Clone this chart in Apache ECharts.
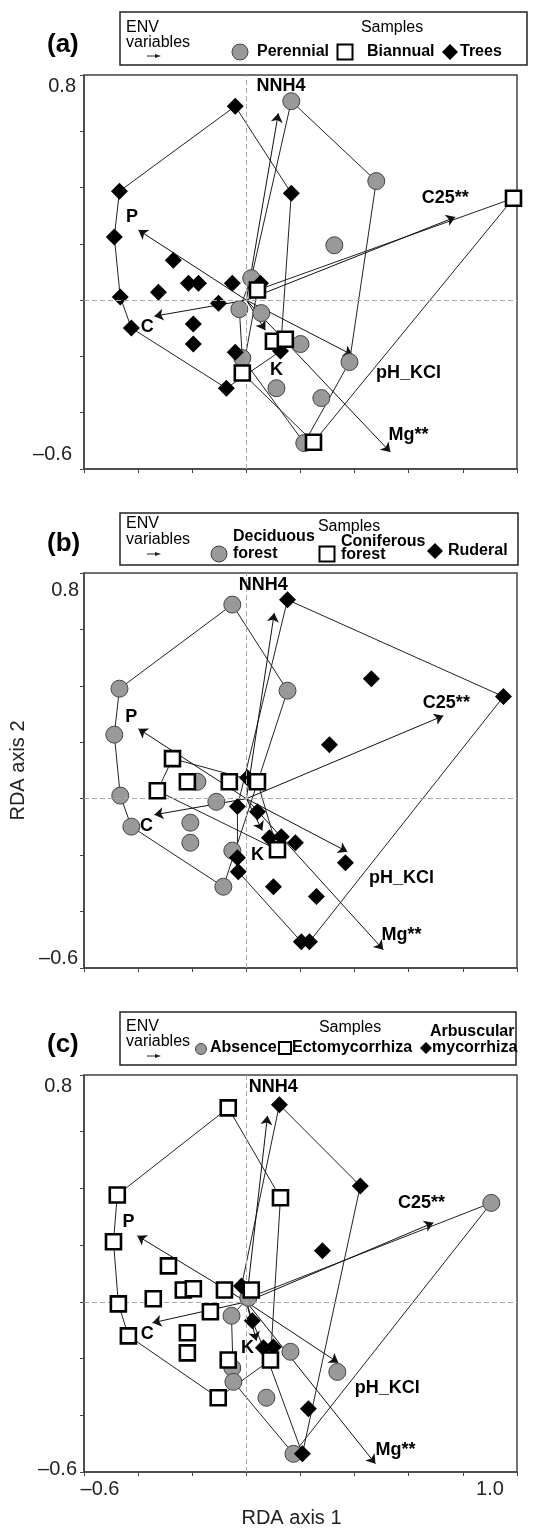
<!DOCTYPE html>
<html>
<head>
<meta charset="utf-8">
<script src="https://cdn.jsdelivr.net/npm/echarts@6/dist/echarts.min.js"></script>
<style>
html, body { margin: 0; padding: 0; background: #fff; }
#chart { width: 534px; height: 1533px; }
</style>
</head>
<body>
<div id="chart"></div>
<script>
// environmental variables (arrows from the origin)
var envNames = ['NNH4', 'C25**', 'P', 'C', 'K', 'pH_KCl', 'Mg**'];

var envA = [[0.118, 0.664], [0.772, 0.295], [-0.399, 0.249], [-0.340, -0.057], [0.070, -0.107], [0.392, -0.195], [0.532, -0.540]];
var envB = [[0.103, 0.658], [0.728, 0.294], [-0.399, 0.248], [-0.340, -0.057], [0.059, -0.113], [0.373, -0.188], [0.506, -0.535]];
var envC = [[0.078, 0.656], [0.691, 0.279], [-0.403, 0.233], [-0.347, -0.074], [0.037, -0.137], [0.340, -0.215], [0.477, -0.571]];

// where the arrow names sit
var envLabelA = [[0.128, 0.760], [0.735, 0.364], [-0.423, 0.295], [-0.366, -0.096], [0.111, -0.249], [0.599, -0.259], [0.599, -0.480]];
var envLabelB = [[0.062, 0.758], [0.739, 0.340], [-0.425, 0.291], [-0.369, -0.096], [0.041, -0.198], [0.573, -0.280], [0.573, -0.482]];
var envLabelC = [[0.099, 0.758], [0.647, 0.349], [-0.436, 0.282], [-0.366, -0.113], [0.004, -0.162], [0.521, -0.303], [0.551, -0.522]];

// (a) life form
var perennialA = [[0.166, 0.707], [0.480, 0.423], [0.325, 0.195], [0.018, 0.078], [-0.026, -0.032], [0.055, -0.046],
  [0.200, -0.156], [-0.015, -0.206], [0.381, -0.220], [0.111, -0.313], [0.277, -0.348], [0.214, -0.508]];
var biannualA = [[0.987, 0.362], [0.041, 0.036], [0.100, -0.146], [0.144, -0.139], [-0.015, -0.259], [0.248, -0.505]];
var treesA = [[-0.041, 0.689], [-0.469, 0.387], [0.166, 0.380], [-0.488, 0.224], [-0.270, 0.142], [-0.214, 0.060],
  [-0.177, 0.060], [-0.052, 0.060], [0.052, 0.060], [-0.325, 0.028], [-0.466, 0.011], [-0.103, -0.011],
  [-0.425, -0.099], [-0.196, -0.085], [-0.196, -0.156], [0.126, -0.181], [-0.041, -0.185], [-0.074, -0.313]];
var hullPerennialA = [0, 1, 8, 11, 7, 4, 3, 0];
var hullBiannualA = [0, 5, 4, 1, 0];
var hullTreesA = [0, 2, 15, 17, 12, 10, 3, 1, 0];

// (b) habitat
var deciduousB = [[-0.052, 0.688], [-0.469, 0.390], [0.152, 0.383], [-0.488, 0.227], [-0.181, 0.060], [-0.466, 0.011],
  [-0.111, -0.011], [-0.425, -0.099], [-0.207, -0.085], [-0.207, -0.156], [-0.052, -0.184], [-0.085, -0.312]];
var coniferousB = [[-0.273, 0.142], [-0.218, 0.060], [-0.063, 0.060], [0.041, 0.060], [-0.329, 0.028], [0.115, -0.181]];
var ruderalB = [[0.152, 0.705], [0.462, 0.425], [0.950, 0.362], [0.307, 0.191], [0.004, 0.074], [-0.033, -0.028],
  [0.041, -0.046], [0.085, -0.138], [0.129, -0.135], [0.181, -0.156], [0.366, -0.227], [-0.033, -0.209],
  [-0.030, -0.259], [0.100, -0.312], [0.259, -0.347], [0.203, -0.507], [0.233, -0.507]];
var hullDeciduousB = [0, 2, 11, 7, 5, 3, 1, 0];
var hullConiferousB = [0, 3, 5, 4, 0];
var hullRuderalB = [0, 2, 16, 15, 12, 11, 5, 0];

// (c) mycorrhiza
var absenceC = [[0.905, 0.349], [0.007, 0.014], [-0.055, -0.049], [0.163, -0.176], [0.336, -0.247], [-0.052, -0.233],
  [-0.048, -0.282], [0.074, -0.338], [0.174, -0.536]];
var ectoC = [[-0.067, 0.684], [-0.477, 0.377], [0.126, 0.367], [-0.491, 0.212], [-0.288, 0.127], [-0.233, 0.042],
  [-0.196, 0.046], [-0.081, 0.042], [0.018, 0.042], [-0.473, -0.007], [-0.344, 0.011], [-0.133, -0.035],
  [-0.436, -0.120], [-0.218, -0.109], [-0.218, -0.180], [-0.067, -0.205], [0.089, -0.205], [-0.104, -0.338]];
var arbuscularC = [[0.122, 0.695], [0.421, 0.409], [0.281, 0.180], [-0.018, 0.056], [0.022, -0.067], [0.063, -0.162],
  [0.100, -0.159], [0.229, -0.377], [0.207, -0.536]];
var hullAbsenceC = [0, 8, 6, 2, 1, 0];
var hullEctoC = [0, 2, 16, 17, 12, 9, 3, 1, 0];
var hullArbuscularC = [0, 1, 8, 5, 4, 3, 0];

var FONT = '"Liberation Sans", Arial, sans-serif';

var kinds = {
  circle: { symbol: 'circle', symbolSize: 17, z: 3, itemStyle: { color: '#999', borderColor: '#444', borderWidth: 1, opacity: 1 } },
  diamond: { symbol: 'diamond', symbolSize: 17, z: 4, itemStyle: { color: '#000', opacity: 1 } },
  square: { symbol: 'rect', symbolSize: 15, z: 5, itemStyle: { color: '#fff', borderColor: '#000', borderWidth: 2.6, opacity: 1 } }
};

var panels = [
  { env: envA, envLabel: envLabelA, top: 75, height: 394, yPad: [22, 3, 30, 7],
    groups: [[perennialA, hullPerennialA, 'circle'], [biannualA, hullBiannualA, 'square'], [treesA, hullTreesA, 'diamond']] },
  { env: envB, envLabel: envLabelB, top: 573, height: 395, yPad: [34, 0, 20, 1],
    groups: [[deciduousB, hullDeciduousB, 'circle'], [coniferousB, hullConiferousB, 'square'], [ruderalB, hullRuderalB, 'diamond']] },
  { env: envC, envLabel: envLabelC, top: 1075, height: 397, yPad: [22, 7, 6, 2],
    groups: [[absenceC, hullAbsenceC, 'circle'], [ectoC, hullEctoC, 'square'], [arbuscularC, hullArbuscularC, 'diamond']] }
];

function near(a, b) { return Math.abs(a - b) < 1e-6; }

var grids = [], xAxes = [], yAxes = [], series = [];

panels.forEach(function (p, i) {
  grids.push({ left: 84, width: 433, top: p.top, height: p.height, show: true, borderColor: '#444', borderWidth: 1.5 });

  xAxes.push({
    gridIndex: i, type: 'value', min: -0.6, max: 1.0, interval: 0.2,
    axisLine: { show: true, onZero: false, lineStyle: { color: '#444', width: 1.5 } },
    axisTick: { show: true, length: 4, lineStyle: { color: '#444', width: 1 } },
    splitLine: { show: false },
    name: i === 2 ? 'RDA axis 1' : '',
    nameLocation: 'middle', nameGap: 36,
    nameTextStyle: { fontSize: 20, color: '#222', fontFamily: FONT, padding: [0, 18, 0, 0] },
    axisLabel: {
      show: i === 2, margin: 7, showMinLabel: true, showMaxLabel: true, hideOverlap: false,
      formatter: function (v) {
        if (near(v, -0.6)) return '{l|\u20130.6}';
        if (near(v, 1.0)) return '{r|1.0}';
        return '';
      },
      rich: {
        l: { fontSize: 20, color: '#222', fontFamily: FONT, padding: [0, 0, 0, 32] },
        r: { fontSize: 20, color: '#222', fontFamily: FONT, padding: [0, 54, 0, 0] }
      }
    }
  });

  yAxes.push({
    gridIndex: i, type: 'value', min: -0.6, max: 0.8, interval: 0.2,
    axisLine: { show: true, onZero: false, lineStyle: { color: '#444', width: 1.5 } },
    axisTick: { show: true, length: 4, lineStyle: { color: '#444', width: 1 } },
    splitLine: { show: false },
    name: i === 1 ? 'RDA axis 2' : '',
    nameLocation: 'middle', nameGap: 52,
    nameTextStyle: { fontSize: 20, color: '#222', fontFamily: FONT },
    axisLabel: {
      show: true, margin: 5, showMinLabel: true, showMaxLabel: true, hideOverlap: false,
      formatter: function (v) {
        if (near(v, 0.8)) return '{t|0.8}';
        if (near(v, -0.6)) return '{b|\u20130.6}';
        return '';
      },
      rich: {
        t: { fontSize: 20, color: '#222', fontFamily: FONT, padding: [p.yPad[0], p.yPad[1], 0, 0] },
        b: { fontSize: 20, color: '#222', fontFamily: FONT, padding: [0, p.yPad[3], p.yPad[2], 0] }
      }
    }
  });

  // hulls
  p.groups.forEach(function (g, k) {
    var s = {
      type: 'line', xAxisIndex: i, yAxisIndex: i, silent: true, z: 1,
      symbol: 'none', lineStyle: { color: '#222', width: 1, opacity: 1 },
      data: g[1].map(function (idx) { return g[0][idx]; })
    };
    if (k === 0) {
      s.markLine = {
        silent: true, symbol: ['none', 'none'], label: { show: false },
        lineStyle: { color: '#aaa', type: [5, 3], width: 1, opacity: 1 },
        data: [{ xAxis: 0 }, { yAxis: 0 }]
      };
    }
    series.push(s);
  });

  // env arrows
  series.push({
    type: 'lines', coordinateSystem: 'cartesian2d', xAxisIndex: i, yAxisIndex: i, silent: true, z: 2,
    symbol: ['none', 'arrow'], symbolSize: [0, 9],
    lineStyle: { color: '#111', width: 1, opacity: 1, curveness: 0 },
    data: p.env.map(function (e) { return { coords: [[0, 0], e] }; })
  });

  // env names
  series.push({
    type: 'scatter', xAxisIndex: i, yAxisIndex: i, silent: true, symbolSize: 0, z: 6,
    itemStyle: { opacity: 1 },
    label: { show: true, position: 'inside', formatter: '{b}', fontSize: 18, fontWeight: 'bold', color: '#000', fontFamily: FONT },
    data: p.envLabel.map(function (e, k) { return { name: envNames[k], value: e }; })
  });

  // samples
  p.groups.forEach(function (g) {
    var st = kinds[g[2]];
    series.push({
      type: 'scatter', xAxisIndex: i, yAxisIndex: i, silent: true,
      symbol: st.symbol, symbolSize: st.symbolSize, z: st.z, itemStyle: st.itemStyle,
      data: g[0]
    });
  });
});

// legend boxes and panel tags
function txt(x, y, s, bold, size, align) {
  return {
    type: 'text', x: x, y: y, z: 10,
    style: {
      text: s, fill: '#000', font: (bold ? 'bold ' : '') + (size || 16) + 'px ' + FONT,
      align: align || 'left', textAlign: align || 'left', verticalAlign: 'middle', textVerticalAlign: 'middle'
    }
  };
}
function box(x, y, w, h) {
  return { type: 'rect', z: 9, shape: { x: x, y: y, width: w, height: h }, style: { fill: '#fff', stroke: '#222', lineWidth: 1.5 } };
}
function legCircle(cx, cy, r) {
  return { type: 'circle', z: 10, shape: { cx: cx, cy: cy, r: r }, style: { fill: '#999', stroke: '#444', lineWidth: 1 } };
}
function legSquare(cx, cy, s) {
  return { type: 'rect', z: 10, shape: { x: cx - s / 2, y: cy - s / 2, width: s, height: s }, style: { fill: '#fff', stroke: '#000', lineWidth: 2 } };
}
function legDiamond(cx, cy, r) {
  return { type: 'polygon', z: 10, shape: { points: [[cx, cy - r], [cx + r, cy], [cx, cy + r], [cx - r, cy]] }, style: { fill: '#000' } };
}
function legArrow(y) {
  return [
    { type: 'line', z: 10, shape: { x1: 147, y1: y, x2: 157, y2: y }, style: { stroke: '#222', lineWidth: 1 } },
    { type: 'polygon', z: 10, shape: { points: [[155, y - 2], [161, y], [155, y + 2]] }, style: { fill: '#222' } }
  ];
}

var graphics = [];
// (a)
graphics.push(box(120, 12, 407, 53), txt(126, 28, 'ENV'), txt(126, 43, 'variables'));
graphics = graphics.concat(legArrow(56));
graphics.push(txt(392, 28, 'Samples', false, 16, 'center'),
  legCircle(240, 52, 8), txt(257, 52, 'Perennial', true),
  legSquare(345, 52, 15), txt(367, 52, 'Biannual', true),
  legDiamond(450, 52, 8), txt(460, 52, 'Trees', true),
  txt(47, 45, '(a)', true, 26));
// (b)
graphics.push(box(120, 513, 398, 52), txt(126, 524, 'ENV'), txt(126, 540, 'variables'));
graphics = graphics.concat(legArrow(554));
graphics.push(txt(349, 527, 'Samples', false, 16, 'center'),
  txt(233, 537, 'Deciduous', true), legCircle(219, 554, 8), txt(233, 554, 'forest', true),
  legSquare(327, 554, 15), txt(341, 542, 'Coniferous', true), txt(341, 555, 'forest', true),
  legDiamond(435, 551, 8), txt(448, 551, 'Ruderal', true),
  txt(47, 544, '(b)', true, 26));
// (c)
graphics.push(box(120, 1012, 396, 53), txt(126, 1027, 'ENV'), txt(126, 1042, 'variables'));
graphics = graphics.concat(legArrow(1056));
graphics.push(txt(350, 1028, 'Samples', false, 16, 'center'),
  legCircle(201, 1049, 5.5), txt(210, 1048, 'Absence', true),
  legSquare(285, 1048, 12), txt(292, 1048, 'Ectomycorrhiza', true),
  legDiamond(426, 1048, 6), txt(432, 1048, 'mycorrhiza', true), txt(430, 1032, 'Arbuscular', true),
  txt(47, 1045, '(c)', true, 26));

var chart = echarts.init(document.getElementById('chart'), null, { renderer: 'canvas' });
chart.setOption({
  backgroundColor: '#fff',
  animation: false,
  textStyle: { fontFamily: FONT },
  grid: grids,
  xAxis: xAxes,
  yAxis: yAxes,
  series: series,
  graphic: graphics
});
</script>
</body>
</html>
